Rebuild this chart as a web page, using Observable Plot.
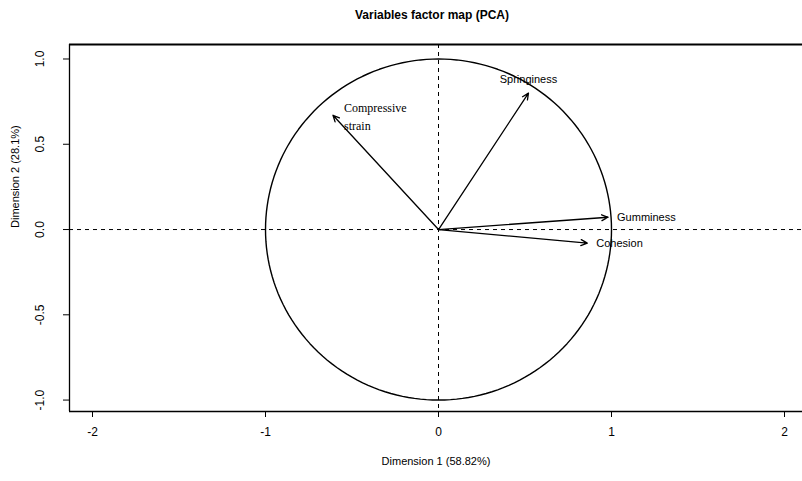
<!DOCTYPE html>
<html><head><meta charset="utf-8">
<script src="https://cdn.jsdelivr.net/npm/d3@7"></script>
<script src="https://cdn.jsdelivr.net/npm/@observablehq/plot@0.6"></script>
<style>
body{margin:0;background:#fff;font-family:"Liberation Sans",Arial,sans-serif;}
#title{height:30px;line-height:30px;text-align:center;font-weight:bold;font-size:12px;padding-left:62px;box-sizing:border-box;width:802px;}
</style></head>
<body>
<div id="title">Variables factor map (PCA)</div>
<div id="chart"></div>
<script>
const variables = ["Compressive\nstrain", "Springiness", "Gumminess", "Cohesion"];
const dim1 = [-0.61, 0.52, 0.98, 0.86];
const dim2 = [0.67, 0.80, 0.072, -0.08];
const xTicks = [-2, -1, 0, 1, 2];
const yTicks = [-1.0, -0.5, 0.0, 0.5, 1.0];
const xDomain = [-2.133, 2.104];
const yDomain = [-1.067, 1.085];
const xTitle = "Dimension 1 (58.82%)";
const yTitle = "Dimension 2 (28.1%)";

const vars = variables.map((v, i) => ({name: v, x: dim1[i], y: dim2[i]}));
const circle = d3.range(0, 361, 2).map(a => ({x: Math.cos(a * Math.PI / 180), y: Math.sin(a * Math.PI / 180)}));
const serifVars = vars.filter(d => d.name.includes("\n"));
const sansUp = vars.filter(d => d.name === "Springiness");
const sansRight = vars.filter(d => d.name === "Gumminess" || d.name === "Cohesion");

const plot = Plot.plot({
  width: 802,
  height: 451,
  marginLeft: 69,
  marginRight: 0,
  marginTop: 14,
  marginBottom: 70,
  style: {fontFamily: "Liberation Sans, Arial, sans-serif", fontSize: "11px", color: "#000", background: "#fff"},
  x: {domain: xDomain},
  y: {domain: yDomain},
  marks: [
    Plot.ruleY([yDomain[1]], {strokeWidth: 2}),
    Plot.ruleY([yDomain[0]], {strokeWidth: 1.3}),
    Plot.ruleX([xDomain[0]], {strokeWidth: 1.3}),
    Plot.axisX({ticks: xTicks, tickSize: 6, tickPadding: 10, fontSize: 12, label: null, tickFormat: d => String(d)}),
    Plot.axisY({ticks: yTicks, tickSize: 6, tickRotate: -90, tickPadding: 20, fontSize: 12, label: null, tickFormat: d => d.toFixed(1)}),
    Plot.text([xTitle], {frameAnchor: "bottom", dy: 53, fontSize: 11, text: d => d}),
    Plot.text([yTitle], {frameAnchor: "left", dx: -54, rotate: -90, fontSize: 11, text: d => d}),
    Plot.ruleY([0], {strokeDasharray: "4,4", strokeWidth: 1}),
    Plot.ruleX([0], {strokeDasharray: "4,4", strokeWidth: 1}),
    Plot.line(circle, {x: "x", y: "y", stroke: "#000", strokeWidth: 1.4}),
    Plot.arrow(vars, {x1: d => 0, y1: d => 0, x2: "x", y2: "y", stroke: "#000", strokeWidth: 1.3, headLength: 8, headAngle: 50, inset: 0}),
    Plot.text(serifVars, {x: "x", y: "y", text: "name", textAnchor: "start", dx: 11, lineAnchor: "middle", lineHeight: 1.5, fontFamily: "Liberation Serif, Times New Roman, serif", fontSize: 12}),
    Plot.text(sansUp, {x: "x", y: "y", text: "name", textAnchor: "middle", dy: -14, fontSize: 11}),
    Plot.text(sansRight, {x: "x", y: "y", text: "name", textAnchor: "start", dx: 9, fontSize: 11})
  ]
});
document.getElementById("chart").appendChild(plot);
</script>
</body></html>
